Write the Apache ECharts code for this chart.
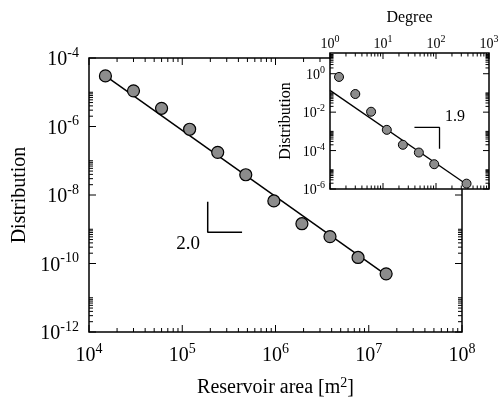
<!DOCTYPE html>
<html>
<head>
<meta charset="utf-8">
<script src="https://cdn.jsdelivr.net/npm/echarts@6/dist/echarts.min.js"></script>
<style>
html, body { margin: 0; padding: 0; background: #fff; }
#chart { width: 502px; height: 398px; }
</style>
</head>
<body>
<div id="chart"></div>
<script>
// main plot: reservoir area distribution
const areaX = [1.5e4, 3.0e4, 6.0e4, 1.2e5, 2.4e5, 4.8e5, 9.6e5, 1.92e6, 3.84e6, 7.68e6, 1.536e7];
const areaDist = [3.0e-5, 1.1e-5, 3.4e-6, 8.3e-7, 1.76e-7, 3.9e-8, 6.7e-9, 1.45e-9, 6.1e-10, 1.5e-10, 5.0e-11];
const areaFit = [[1.5e4, 3.0e-5], [1.6e7, 4.3e-11]];
const areaSlope = [[1.875e5, 6.4e-9], [1.875e5, 8.15e-10], [4.38e5, 8.15e-10]];

// inset: degree distribution
const degreeX = [1.48, 3.0, 5.96, 11.8, 23.7, 47.5, 92.5, 377];
const degreeDist = [0.68, 0.088, 0.0105, 1.2e-3, 2.0e-4, 7.9e-5, 1.95e-5, 1.9e-6];
const degreeFit = [[1, 0.136], [380, 1.7e-6]];
const degreeSlope = [[39.2, 1.6e-3], [116.5, 1.6e-3], [116.5, 1.23e-4]];

const FONT = "Liberation Serif";

// log ticks: major at every `step` decades, minor k*10^e just above each major
function logTicks(lo, hi, step, top) {
    const out = [];
    for (let e = lo; e <= hi; e += step) {
        out.push({ v: Math.pow(10, e), major: true });
        const kmax = step === 2 ? 10 : 9;
        for (let k = 2; k <= kmax; k++) {
            const v = k * Math.pow(10, e);
            if (v < top) out.push({ v: v, major: false });
        }
    }
    return out;
}

function expLabel(step) {
    return function(value) {
        const e = Math.log10(value);
        const r = Math.round(e);
        if (Math.abs(e - r) > 1e-6) return "";
        if (step === 2 && r % 2 !== 0) return "";
        return "{b|10}{s|" + r + "}";
    };
}

function tickSeries(idx, dir, ticks, other, lens, hideFar) {
    return {
        type: "custom",
        xAxisIndex: idx,
        yAxisIndex: idx,
        silent: true,
        clip: false,
        z: 4,
        data: ticks.map(t => dir === "x" ? [t.v, other[0]] : [other[0], t.v]),
        renderItem: function(params, api) {
            const t = ticks[params.dataIndex];
            const L = t.major ? lens[0] : lens[1];
            const st = { stroke: "#000", lineWidth: 1 };
            const p = api.coord(dir === "x" ? [t.v, other[0]] : [other[0], t.v]);
            const q = api.coord(dir === "x" ? [t.v, other[1]] : [other[1], t.v]);
            const kids = [];
            if (dir === "x") {
                kids.push({ type: "line", shape: { x1: p[0], y1: p[1], x2: p[0], y2: p[1] - L }, style: st });
                if (!(hideFar && hideFar(t.v))) kids.push({ type: "line", shape: { x1: q[0], y1: q[1], x2: q[0], y2: q[1] + L }, style: st });
            } else {
                kids.push({ type: "line", shape: { x1: p[0], y1: p[1], x2: p[0] + L, y2: p[1] }, style: st });
                if (!(hideFar && hideFar(t.v))) kids.push({ type: "line", shape: { x1: q[0], y1: q[1], x2: q[0] - L, y2: q[1] }, style: st });
            }
            return { type: "group", children: kids };
        }
    };
}

const bigRich = {
    b: { fontFamily: FONT, fontSize: 20, color: "#000", verticalAlign: "bottom" },
    s: { fontFamily: FONT, fontSize: 14, color: "#000", verticalAlign: "bottom", padding: [0, 0, 10, 0] }
};
const smallRich = {
    b: { fontFamily: FONT, fontSize: 14, color: "#000", verticalAlign: "bottom" },
    s: { fontFamily: FONT, fontSize: 10, color: "#000", verticalAlign: "bottom", padding: [0, 0, 7, 0] }
};

const chart = echarts.init(document.getElementById("chart"));
chart.setOption({
    animation: false,
    grid: [
        { left: 89, top: 58, right: 40, bottom: 66, outerBoundsMode: "none", show: true, borderColor: "#000", borderWidth: 1.5, backgroundColor: "#fff" },
        { left: 330, top: 53, right: 13, bottom: 209, outerBoundsMode: "none", show: true, borderColor: "#000", borderWidth: 1.5, backgroundColor: "#fff" }
    ],
    xAxis: [
        {
            type: "log", gridIndex: 0, min: 1e4, max: 1e8, logBase: 10,
            axisLine: { show: false }, axisTick: { show: false }, splitLine: { show: false },
            axisLabel: { formatter: expLabel(1), margin: 10, rich: bigRich },
            name: "Reservoir area [m{s|2}]", nameLocation: "middle", nameGap: 44,
            nameTextStyle: { fontFamily: FONT, fontSize: 20, color: "#000", rich: bigRich }
        },
        {
            type: "log", gridIndex: 1, position: "top", min: 1, max: 1000, logBase: 10,
            axisLine: { show: false }, axisTick: { show: false }, splitLine: { show: false },
            axisLabel: { formatter: expLabel(1), margin: 2, rich: smallRich },
            name: "Degree", nameLocation: "middle", nameGap: 27,
            nameTextStyle: { fontFamily: FONT, fontSize: 16, color: "#000" }
        }
    ],
    yAxis: [
        {
            type: "log", gridIndex: 0, min: 1e-12, max: 1e-4, logBase: 10,
            axisLine: { show: false }, axisTick: { show: false }, splitLine: { show: false },
            axisLabel: { formatter: expLabel(2), margin: 10, rich: bigRich },
            name: "Distribution", nameLocation: "middle", nameGap: 53,
            nameTextStyle: { fontFamily: FONT, fontSize: 20, color: "#000" }
        },
        {
            type: "log", gridIndex: 1, min: 1e-6, max: 12, logBase: 10,
            axisLine: { show: false }, axisTick: { show: false }, splitLine: { show: false },
            axisLabel: { formatter: expLabel(2), margin: 5, rich: smallRich },
            name: "Distribution", nameLocation: "middle", nameGap: 36,
            nameTextStyle: { fontFamily: FONT, fontSize: 16, color: "#000" }
        }
    ],
    graphic: [
        { type: "text", x: 188, y: 244, style: { text: "2.0", font: "19px " + FONT, fill: "#000", align: "center", verticalAlign: "middle" } },
        { type: "text", x: 455, y: 117, style: { text: "1.9", font: "16px " + FONT, fill: "#000", align: "center", verticalAlign: "middle" } }
    ],
    series: [
        tickSeries(0, "x", logTicks(4, 8, 1, 1e8), [1e-12, 1e-4], [7, 4], v => v > 3.7e6),
        tickSeries(0, "y", logTicks(-12, -4, 2, 1e-4), [1e4, 1e8], [7, 4], v => v > 1.5e-8),
        tickSeries(1, "x", logTicks(0, 3, 1, 1000), [1e-6, 12], [6, 3.5]),
        tickSeries(1, "y", logTicks(-6, 0, 2, 12), [1, 1000], [6, 3.5]),
        {
            type: "line", xAxisIndex: 0, yAxisIndex: 0, data: areaFit, symbol: "none",
            lineStyle: { color: "#000", width: 1.5 }, z: 3
        },
        {
            type: "line", xAxisIndex: 0, yAxisIndex: 0, data: areaSlope, symbol: "none",
            lineStyle: { color: "#000", width: 1.5 }, z: 3
        },
        {
            type: "scatter", xAxisIndex: 0, yAxisIndex: 0,
            data: areaX.map((x, i) => [x, areaDist[i]]),
            symbolSize: 12, itemStyle: { color: "#8c8c8c", borderColor: "#000", borderWidth: 1.2, opacity: 1 }, z: 5
        },
        {
            type: "line", xAxisIndex: 1, yAxisIndex: 1, data: degreeFit, symbol: "none",
            lineStyle: { color: "#000", width: 1.3 }, z: 3
        },
        {
            type: "line", xAxisIndex: 1, yAxisIndex: 1, data: degreeSlope, symbol: "none",
            lineStyle: { color: "#000", width: 1.3 }, z: 3
        },
        {
            type: "scatter", xAxisIndex: 1, yAxisIndex: 1,
            data: degreeX.map((x, i) => [x, degreeDist[i]]),
            symbolSize: 9, itemStyle: { color: "#8c8c8c", borderColor: "#000", borderWidth: 1, opacity: 1 }, z: 5
        }
    ]
});
</script>
</body>
</html>
